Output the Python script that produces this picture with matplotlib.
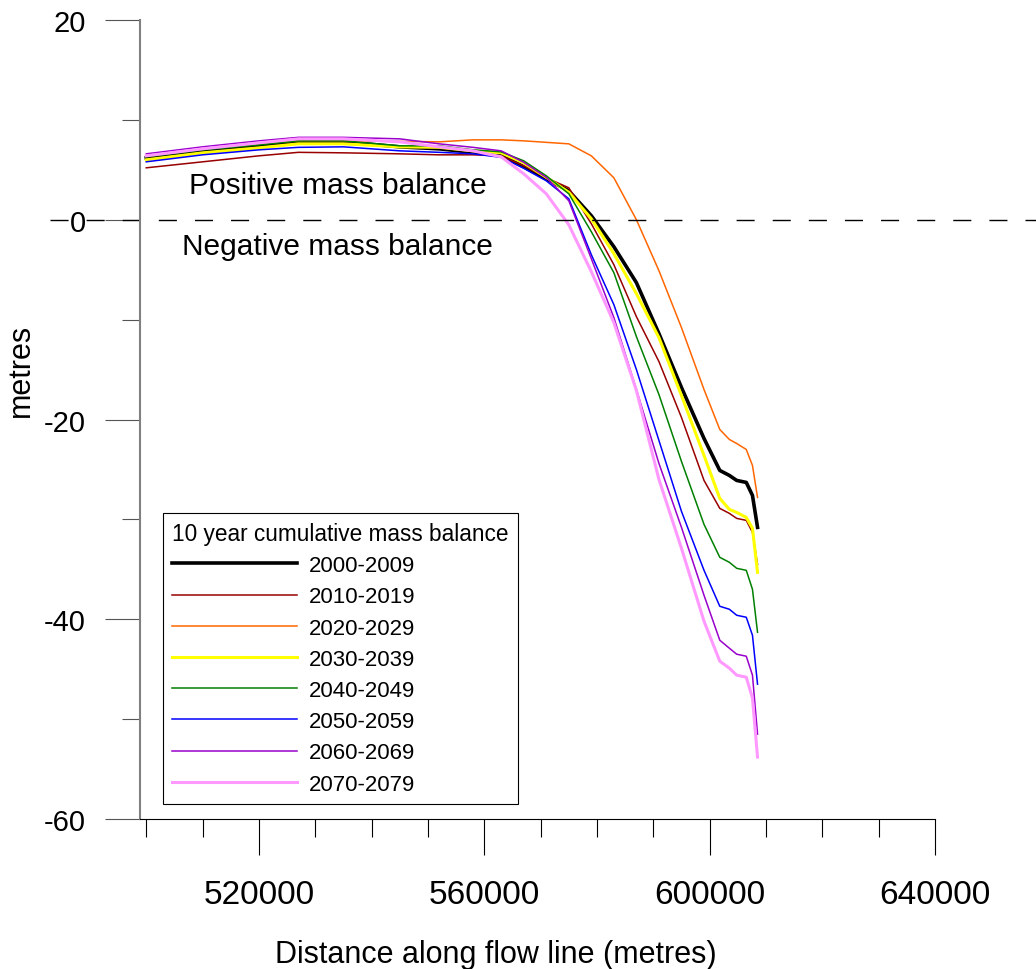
import matplotlib
matplotlib.use("Agg")
import matplotlib.pyplot as plt
from matplotlib.transforms import blended_transform_factory

plt.rcParams["font.family"] = ["Liberation Sans", "DejaVu Sans"]
plt.rcParams["axes.unicode_minus"] = False

# distance along flow line (metres), shared by all series
dist = [500000, 510000, 520000, 527000, 535000, 545000, 552000, 558000, 563000, 567000,
        571000, 575000, 579000, 583000, 587000, 591000, 595000, 599000, 601800, 603500,
        604800, 606500, 607600, 608500]

# 10 year cumulative mass balance (metres)
mb_2000 = [6.2, 6.9, 7.4, 7.8, 7.8, 7.3, 7.1, 6.75, 6.5, 5.3, 4.1, 2.9, 0.4, -2.7, -6.3,
           -11.4, -16.8, -21.9, -25.1, -25.6, -26.1, -26.3, -27.6, -30.8]
mb_2010 = [5.2, 5.8, 6.4, 6.75, 6.7, 6.6, 6.5, 6.5, 6.4, 5.4, 4.2, 3.2, -0.4, -4.5, -9.7,
           -14.2, -19.8, -26.1, -28.9, -29.4, -29.9, -30.1, -31.3, -34.5]
mb_2020 = [6.4, 7.1, 7.6, 7.9, 7.9, 7.85, 7.8, 8.0, 8.0, 7.9, 7.75, 7.6, 6.4, 4.2, 0.0,
           -5.1, -10.8, -17.0, -21.0, -22.0, -22.4, -23.0, -24.6, -27.8]
mb_2030 = [6.0, 6.7, 7.2, 7.6, 7.6, 7.3, 7.25, 6.9, 6.7, 5.7, 4.25, 2.75, 0.1, -3.4, -7.4,
           -11.8, -17.6, -23.6, -27.9, -29.0, -29.3, -29.8, -30.9, -35.3]
mb_2040 = [6.3, 7.0, 7.5, 7.9, 7.9, 7.4, 7.4, 7.0, 6.8, 5.9, 4.4, 2.6, -1.2, -5.3, -11.7,
           -17.5, -24.2, -30.5, -33.8, -34.3, -34.9, -35.1, -37.0, -41.3]
mb_2050 = [5.8, 6.5, 7.0, 7.25, 7.3, 6.9, 6.75, 6.6, 6.25, 5.15, 3.9, 2.1, -3.5, -8.5, -15.0,
           -22.1, -29.2, -35.1, -38.7, -39.0, -39.6, -39.8, -41.6, -46.5]
mb_2060 = [6.6, 7.3, 7.9, 8.25, 8.25, 8.1, 7.6, 7.25, 6.9, 5.75, 4.25, 1.9, -3.9, -9.8, -17.0,
           -24.4, -30.8, -37.6, -42.1, -42.9, -43.5, -43.7, -45.6, -51.5]
mb_2070 = [6.4, 7.1, 7.7, 8.1, 8.1, 7.8, 7.3, 6.9, 6.3, 4.6, 2.6, -0.5, -5.2, -10.3, -17.1,
           -26.0, -32.9, -40.2, -44.2, -44.9, -45.6, -45.8, -47.9, -53.8]

decades = ["2000-2009", "2010-2019", "2020-2029", "2030-2039",
           "2040-2049", "2050-2059", "2060-2069", "2070-2079"]
series = [mb_2000, mb_2010, mb_2020, mb_2030, mb_2040, mb_2050, mb_2060, mb_2070]
colours = ["#000000", "#990000", "#ff6600", "#ffff00",
           "#008000", "#0000ff", "#9900cc", "#ff99ff"]
widths = [2.6, 1.1, 1.1, 2.2, 1.1, 1.1, 1.1, 2.2]

xticks_major = [520000, 560000, 600000, 640000]
xticks_minor = [500000, 510000, 530000, 540000, 550000, 570000, 580000, 590000, 610000,
                620000, 630000]
yticks_major = [20, 0, -20, -40, -60]
yticks_labels = ["20", "0", "-20", "-40", "-60"]
yticks_minor = [10, -10, -30, -50]

fig = plt.figure(figsize=(10.36, 9.70), dpi=100)
ax = fig.add_axes([140 / 1036, 1 - 820 / 970, 795 / 1036, 799 / 970])

for d, y, c, w in zip(decades, series, colours, widths):
    ax.plot(dist, y, color=c, lw=w, label=d, solid_joinstyle="round")

# zero line, runs past the axes on both sides
trans = blended_transform_factory(fig.transFigure, ax.transData)
ax.plot([50 / 1036, 1.0], [0, 0], color="black", lw=1.0, linestyle=(0, (13, 13)),
        transform=trans, clip_on=False)

ax.text(534000, 3.5, "Positive mass balance", fontsize=21.5, ha="center", va="center")
ax.text(534000, -2.6, "Negative mass balance", fontsize=21.5, ha="center", va="center")

ax.set_xlim(498890, 640000)
ax.set_ylim(-60, 20)

ax.set_xticks(xticks_major)
ax.set_xticklabels([str(v) for v in xticks_major])
ax.set_xticks(xticks_minor, minor=True)
ax.set_yticks(yticks_major)
ax.set_yticklabels(yticks_labels)
ax.set_yticks(yticks_minor, minor=True)

ax.tick_params(axis="x", which="major", direction="out", length=26, width=0.8,
               color="black", labelsize=24, pad=17)
ax.tick_params(axis="x", which="minor", direction="out", length=13, width=0.8, color="black")
ax.tick_params(axis="y", which="major", direction="out", length=25, width=0.8,
               color="#555555", labelsize=21, pad=14)
ax.tick_params(axis="y", which="minor", direction="out", length=13, width=0.8, color="#555555")

for s in ["top", "right"]:
    ax.spines[s].set_visible(False)
ax.spines["left"].set_color("#808080")
ax.spines["left"].set_linewidth(1.5)
ax.spines["bottom"].set_color("black")
ax.spines["bottom"].set_linewidth(0.8)

ax.set_xlabel("Distance along flow line (metres)", fontsize=22, va="center")
ax.xaxis.set_label_coords(0.448, -0.169)
ax.set_ylabel("metres", fontsize=22, va="center")
ax.yaxis.set_label_coords(-0.150, 0.563)

leg = ax.legend(title="10 year cumulative mass balance", loc="lower left",
                bbox_to_anchor=(163 / 1036, 1 - 805 / 970), bbox_transform=fig.transFigure,
                fontsize=16, title_fontsize=16.3, handlelength=5.6, handletextpad=0.55,
                labelspacing=0.46, borderpad=0.42, borderaxespad=0, fancybox=False,
                framealpha=1, edgecolor="black", alignment="left")
leg.get_frame().set_linewidth(0.8)

fig.savefig("out.png", dpi=100)
